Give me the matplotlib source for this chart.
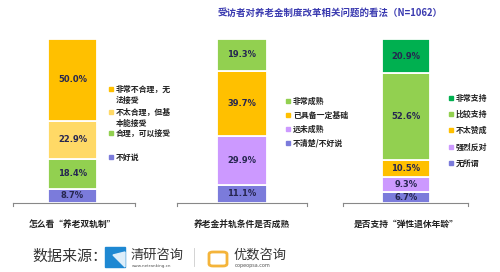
import matplotlib.pyplot as plt
from matplotlib.patches import Rectangle, Polygon, FancyBboxPatch

plt.rcParams['font.family'] = ['Noto Sans CJK SC', 'DejaVu Sans']

title = "受访者对养老金制度改革相关问题的看法（N=1062）"

# each panel: stacked from bottom to top
cat1 = "怎么看“养老双轨制”"
labels1 = ["不好说", "合理，可以接受", "不太合理，但基\n本能接受", "非常不合理，无\n法接受"]
values1 = [8.7, 18.4, 22.9, 50.0]
colors1 = ["#7B7BDB", "#92D050", "#FFD966", "#FFC000"]

cat2 = "养老金并轨条件是否成熟"
labels2 = ["不清楚/不好说", "远未成熟", "已具备一定基础", "非常成熟"]
values2 = [11.1, 29.9, 39.7, 19.3]
colors2 = ["#7B7BDB", "#CC99FF", "#FFC000", "#92D050"]

cat3 = "是否支持“弹性退休年龄”"
labels3 = ["无所谓", "强烈反对", "不太赞成", "比较支持", "非常支持"]
values3 = [6.7, 9.3, 10.5, 52.6, 20.9]
colors3 = ["#7B7BDB", "#CC99FF", "#FFC000", "#92D050", "#00B050"]

W, H = 500, 272
fig = plt.figure(figsize=(5, 2.72), dpi=100)

# layout in pixels: axis line ends, bar ends, legend marker x, legend rows y (bottom->top order)
panels = [
    (cat1, labels1, values1, colors1, 13, 135, 48, 97, 111, [157, 133, 112, 89]),
    (cat2, labels2, values2, colors2, 177, 307, 217, 267, 288, [143, 129, 115, 101]),
    (cat3, labels3, values3, colors3, 343, 468, 382, 430, 451, [163, 147, 130, 114, 98]),
]
top_px, bot_px = 39, 203

for cat, labels, values, colors, x0, x1, b0, b1, mx, rows in panels:
    ax = fig.add_axes([x0 / W, 1 - bot_px / H, (x1 - x0) / W, (bot_px - top_px) / H])
    ax.set_xlim(x0, x1)
    ax.set_ylim(0, 100)
    centre = (b0 + b1) / 2
    bottom = 0
    for lab, v, c, ry in zip(labels, values, colors, rows):
        ax.bar(centre, v, width=b1 - b0, bottom=bottom, color=c,
               edgecolor="white", linewidth=1.3)
        ax.text(centre, bottom + v / 2, f"{v:.1f}%", ha="center", va="center",
                fontsize=6, fontweight="bold", color="#262650", family="DejaVu Sans")
        bottom += v
        # legend entry
        fig.patches.append(Rectangle(((mx - 2) / W, 1 - (ry + 2) / H), 4 / W, 4 / H,
                                     color=c, transform=fig.transFigure))
        fig.text((mx + 5) / W, 1 - (ry - 4.5) / H, lab, fontsize=5.7,
                 fontweight="bold", color="#222222", ha="left", va="top",
                 linespacing=1.35)
    for s in ["top", "right", "left"]:
        ax.spines[s].set_visible(False)
    ax.spines["bottom"].set_color("#888888")
    ax.spines["bottom"].set_linewidth(0.8)
    ax.plot([x0, x0], [0, -1.8], color="#888888", lw=0.8, clip_on=False)
    ax.plot([x1, x1], [0, -1.8], color="#888888", lw=0.8, clip_on=False)
    ax.set_yticks([])
    ax.set_xticks([centre])
    ax.set_xticklabels([cat], fontsize=6.3, fontweight="bold", color="#222222")
    ax.tick_params(axis="x", length=0, pad=12)

fig.text(218 / W, 1 - 13 / H, title, fontsize=6.8, fontweight="bold",
         color="#3A3AB0", ha="left", va="center")

# footer
fig.text(32 / W, 1 - 257 / H, "数据来源：", fontsize=10.8, color="#333333",
         ha="left", va="center")
fig.patches.append(Polygon([(105 / W, 1 - 247 / H), (125 / W, 1 - 247 / H),
                            (125 / W, 1 - 267 / H), (105 / W, 1 - 267 / H)],
                           closed=True, color="#1E88D2", transform=fig.transFigure))
fig.patches.append(Polygon([(113 / W, 1 - 255 / H), (125 / W, 1 - 267 / H),
                            (125 / W, 1 - 252 / H)],
                           closed=True, color="#DDEEFA", transform=fig.transFigure))
fig.text(131 / W, 1 - 255 / H, "清研咨询", fontsize=9.5, color="#333333",
         ha="left", va="center")
fig.text(132 / W, 1 - 266 / H, "www.netranking.cn", fontsize=3, color="#555555",
         ha="left", va="center", family="DejaVu Sans")
fig.lines.append(plt.Line2D([194 / W, 194 / W], [1 - 248 / H, 1 - 266 / H],
                            color="#CCCCCC", lw=0.6, transform=fig.transFigure))
fig.patches.append(FancyBboxPatch((209 / W, 1 - 266 / H), 18 / W, 14 / H,
                                  boxstyle="round,pad=0,rounding_size=0.008",
                                  facecolor="white", edgecolor="#F4B43A", lw=2,
                                  transform=fig.transFigure))
fig.text(234 / W, 1 - 255 / H, "优数咨询", fontsize=9.5, color="#333333",
         ha="left", va="center")
fig.text(235 / W, 1 - 266 / H, "oopeopsa.com", fontsize=3.5, color="#555555",
         ha="left", va="center", family="DejaVu Sans")

fig.savefig("out.png", dpi=100)
